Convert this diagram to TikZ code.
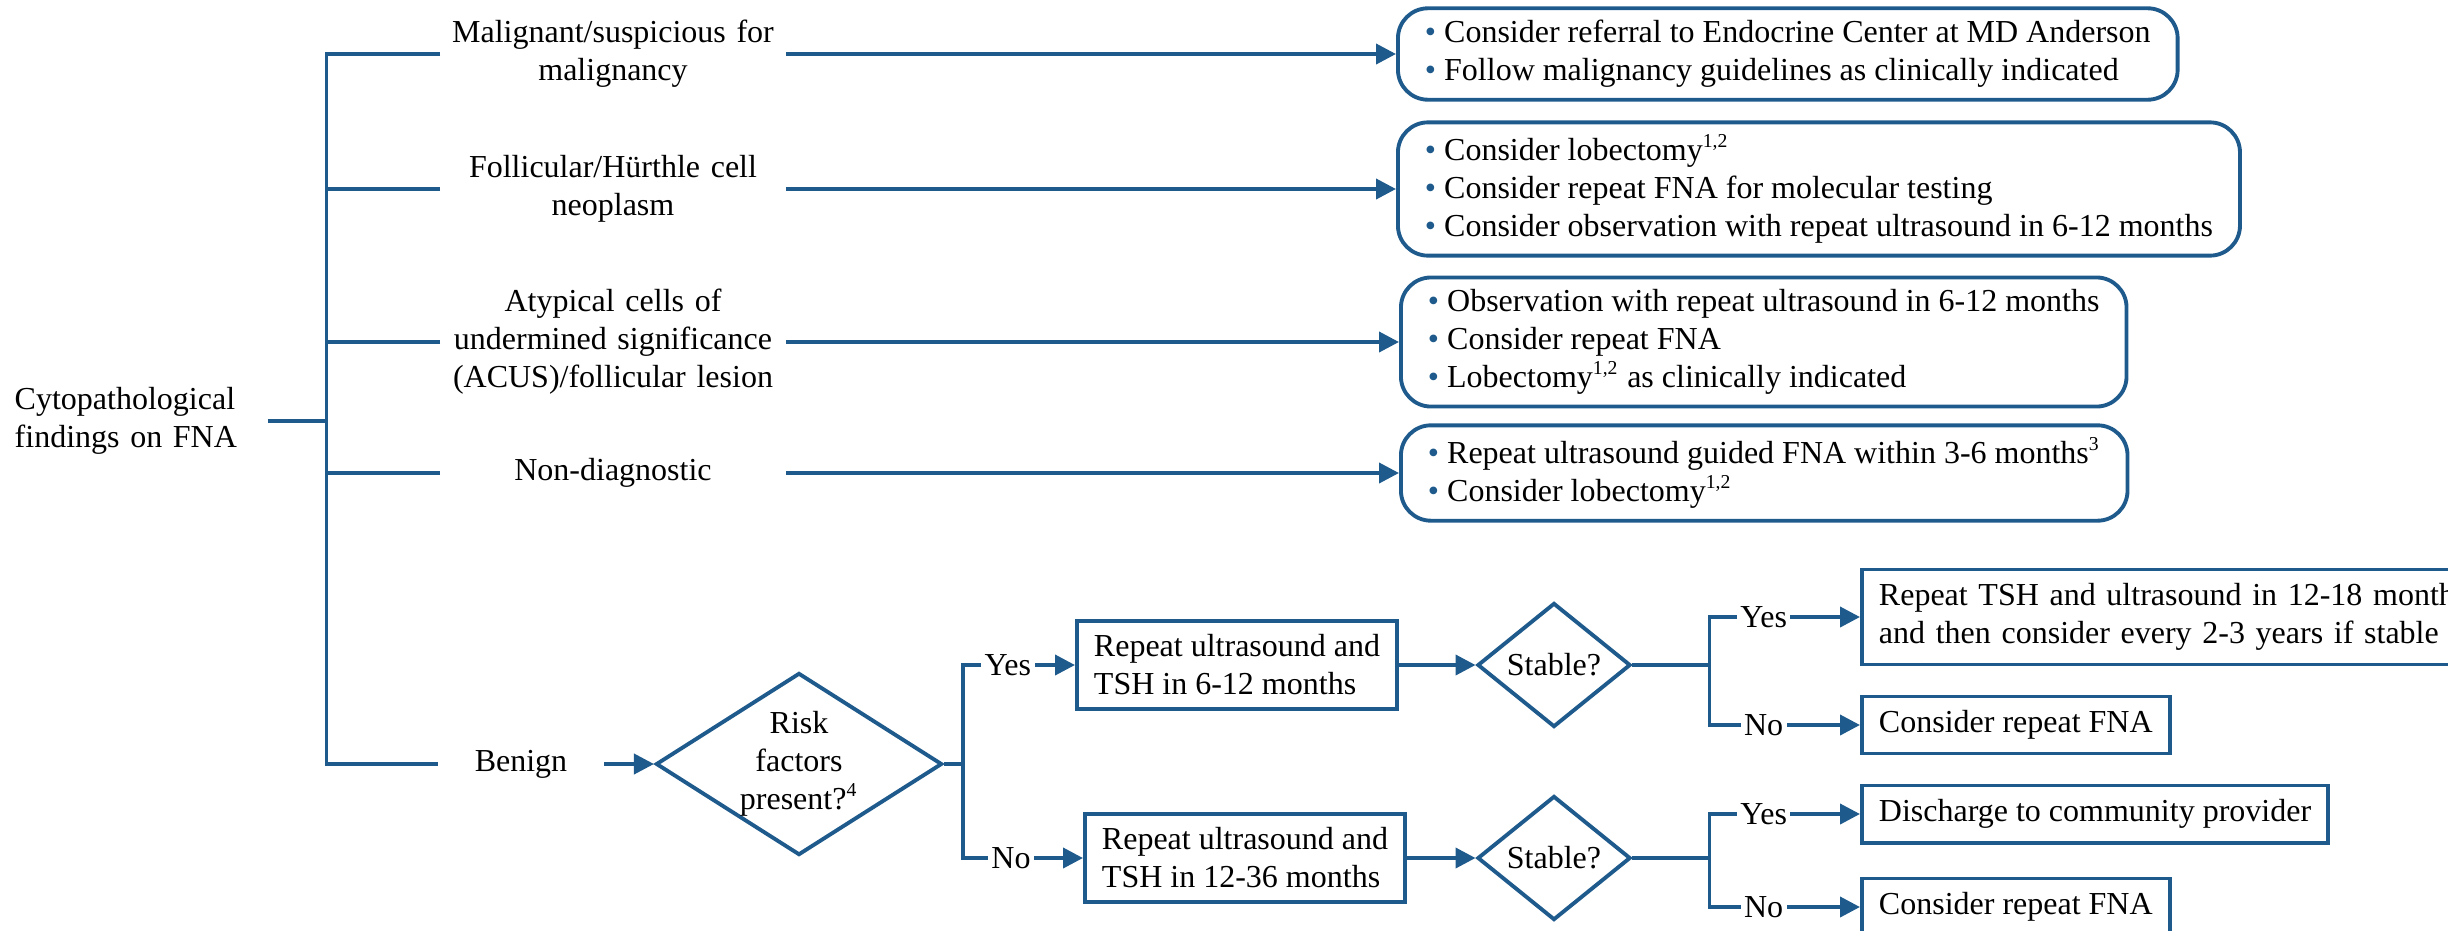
\documentclass[tikz,border=0pt]{standalone}
\usepackage{fontspec}
\setmainfont{Liberation Serif}
\usetikzlibrary{shapes,arrows.meta,positioning}
\definecolor{fnablue}{RGB}{31,90,140}
\tikzstyle{line} = [draw=fnablue,line width=1.1pt]
\tikzstyle{flow} = [line,-{Triangle[length=0.2cm,width=0.2cm]}]
\tikzstyle{finding} = [align=center,text width=3.44cm,inner xsep=0,inner ysep=0]
\tikzstyle{advice} = [draw=fnablue,line width=1.1pt,rounded corners=0.3cm,align=left,inner xsep=0.27cm,inner ysep=0.12cm,anchor=west]
\tikzstyle{action} = [draw=fnablue,line width=1.1pt,align=left,inner xsep=0.17cm,inner ysep=0.14cm,anchor=west]
\tikzstyle{decision} = [draw=fnablue,line width=1.1pt,diamond,aspect=1.6,align=center,inner sep=0]
\tikzstyle{answer} = [fill=white,inner sep=1pt]
\def \bu {{\color{fnablue}\textbullet}\ }
\def \fn #1{\textsuperscript{\fontsize{5.6}{6}\selectfont #1}}

\begin{document}
\begin{tikzpicture}[x=0.01cm,y=-0.01cm,font=\fontsize{9.1}{10.8}\selectfont]
  \useasboundingbox (0,0) rectangle (2448,930);
  \node[align=left,text width=2.52cm,inner sep=0,anchor=west] (cyto) at (14,421) {Cytopathological\\findings on FNA};
  \draw[line] (cyto.east) -- ++(59,0) coordinate (hub);
  \node[finding] (mal) at (613,54) {Malignant/suspicious for\\malignancy};
  \node[finding] (foll) at (613,189) {Follicular/Hürthle cell\\neoplasm};
  \node[finding] (acus) at (613,342) {Atypical cells of\\undermined significance\\(ACUS)/follicular lesion};
  \node[finding] (nondx) at (613,473) {Non-diagnostic};
  \node[finding,text width=1.65cm] (ben) at (521,764) {Benign};
  \draw[line] (mal.west) -| (hub) |- (ben.west);
  \foreach \n in {foll,acus,nondx}
    \draw[line] (\n.west) -- (\n.west -| hub);

  \node[advice] (mal-plan) at (1396,54) {\bu Consider referral to Endocrine Center at MD Anderson\\\bu Follow malignancy guidelines as clinically indicated};
  \node[advice] (foll-plan) at (1396,189) {\bu Consider lobectomy\fn{1,2}\\\bu Consider repeat FNA for molecular testing\\\bu Consider observation with repeat ultrasound in 6-12 months};
  \node[advice] (acus-plan) at (1399,342) {\bu Observation with repeat ultrasound in 6-12 months\\\bu Consider repeat FNA\\\bu Lobectomy\fn{1,2} as clinically indicated};
  \node[advice] (nondx-plan) at (1399,473) {\bu Repeat ultrasound guided FNA within 3-6 months\fn{3}\\\bu Consider lobectomy\fn{1,2}};
  \foreach \n in {mal,foll,acus,nondx}
    \draw[flow] (\n.east) -- (\n-plan.west);

  \node[decision,minimum width=2.81cm,minimum height=1.82cm] (risk) at (799,764) {Risk\\factors\\present?\fn{4}};
  \draw[flow] (ben.east) -- (risk.west);
  \draw[line] (risk.east) -- ++(19,0) coordinate (s1);
  \node[action] (us6) at (1075,665) {Repeat ultrasound and\\TSH in 6-12 months};
  \node[action] (us12) at (1083,858) {Repeat ultrasound and\\TSH in 12-36 months};
  \draw[flow] (s1) |- node[answer,pos=0.7]{Yes} (us6.west);
  \draw[flow] (s1) |- node[answer,pos=0.7]{No} (us12.west);

  \node[decision,minimum width=1.53cm,minimum height=1.24cm] (stab1) at (1554,665) {Stable?};
  \node[decision,minimum width=1.53cm,minimum height=1.24cm] (stab2) at (1554,858) {Stable?};
  \draw[flow] (us6.east) -- (stab1.west);
  \draw[flow] (us12.east) -- (stab2.west);
  \draw[line] (stab1.east) -- ++(77,0) coordinate (s2);
  \draw[line] (stab2.east) -- ++(77,0) coordinate (s3);

  \node[action,text width=6.0cm] (follow) at (1860,617) {Repeat TSH and ultrasound in 12-18 months\\and then consider every 2-3 years if stable};
  \node[action] (refna1) at (1860,725) {Consider repeat FNA};
  \node[action] (discharge) at (1860,814) {Discharge to community provider};
  \node[action] (refna2) at (1860,907) {Consider repeat FNA};
  \draw[flow] (s2) |- node[answer,pos=0.68]{Yes} (follow.west);
  \draw[flow] (s2) |- node[answer,pos=0.68]{No} (refna1.west);
  \draw[flow] (s3) |- node[answer,pos=0.68]{Yes} (discharge.west);
  \draw[flow] (s3) |- node[answer,pos=0.68]{No} (refna2.west);
\end{tikzpicture}
\end{document}
